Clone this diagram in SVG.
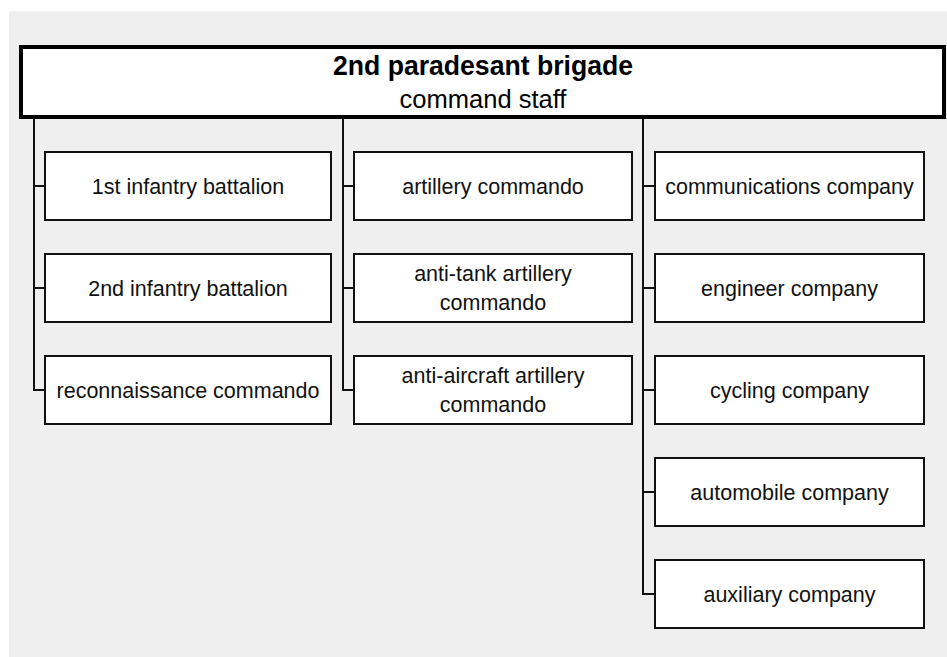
<svg xmlns="http://www.w3.org/2000/svg" width="947" height="657" viewBox="0 0 947 657">
<style>
.bg{fill:#efefef}
.box{fill:#fff;stroke:#111;stroke-width:2}
.top{fill:#fff;stroke:#000;stroke-width:4}
.t{font-family:"Liberation Sans",Arial,sans-serif;font-size:21.5px;fill:#111;text-anchor:middle}
.title{font-family:"Liberation Sans",Arial,sans-serif;font-size:27px;font-weight:bold;fill:#000;text-anchor:middle}
.sub{font-family:"Liberation Sans",Arial,sans-serif;font-size:25.5px;fill:#000;text-anchor:middle}
.c{fill:none;stroke:#111;stroke-width:2}
</style>
<rect class="bg" x="9" y="11" width="938" height="646"/>
<g id="connectors">
<path class="c" d="M34 117 V390 H45 M34 186 H45 M34 288 H45"/>
<path class="c" d="M343 117 V390 H354 M343 186 H354 M343 288 H354"/>
<path class="c" d="M643 117 V594 H655 M643 186 H655 M643 288 H655 M643 390 H655 M643 492 H655"/>
</g>
<g id="brigade">
<rect class="top" x="21" y="47" width="923" height="70"/>
<text class="title" x="483" y="75" textLength="300" lengthAdjust="spacingAndGlyphs">2nd paradesant brigade</text>
<text class="sub" x="483" y="108">command staff</text>
</g>
<g id="inf1"><rect class="box" x="45" y="152" width="286" height="68"/><text class="t" x="188" y="193.5">1st infantry battalion</text></g>
<g id="inf2"><rect class="box" x="45" y="254" width="286" height="68"/><text class="t" x="188" y="295.5">2nd infantry battalion</text></g>
<g id="recon"><rect class="box" x="45" y="356" width="286" height="68"/><text class="t" x="188" y="397.5">reconnaissance commando</text></g>
<g id="art"><rect class="box" x="354" y="152" width="278" height="68"/><text class="t" x="493" y="193.5">artillery commando</text></g>
<g id="at"><rect class="box" x="354" y="254" width="278" height="68"/><text class="t" x="493" y="280.5">anti-tank artillery</text><text class="t" x="493" y="309.5">commando</text></g>
<g id="aa"><rect class="box" x="354" y="356" width="278" height="68"/><text class="t" x="493" y="382.5">anti-aircraft artillery</text><text class="t" x="493" y="411.5">commando</text></g>
<g id="comm"><rect class="box" x="655" y="152" width="269" height="68"/><text class="t" x="789.5" y="193.5">communications company</text></g>
<g id="eng"><rect class="box" x="655" y="254" width="269" height="68"/><text class="t" x="789.5" y="295.5">engineer company</text></g>
<g id="cyc"><rect class="box" x="655" y="356" width="269" height="68"/><text class="t" x="789.5" y="397.5">cycling company</text></g>
<g id="auto"><rect class="box" x="655" y="458" width="269" height="68"/><text class="t" x="789.5" y="499.5">automobile company</text></g>
<g id="aux"><rect class="box" x="655" y="560" width="269" height="68"/><text class="t" x="789.5" y="601.5">auxiliary company</text></g>
</svg>
